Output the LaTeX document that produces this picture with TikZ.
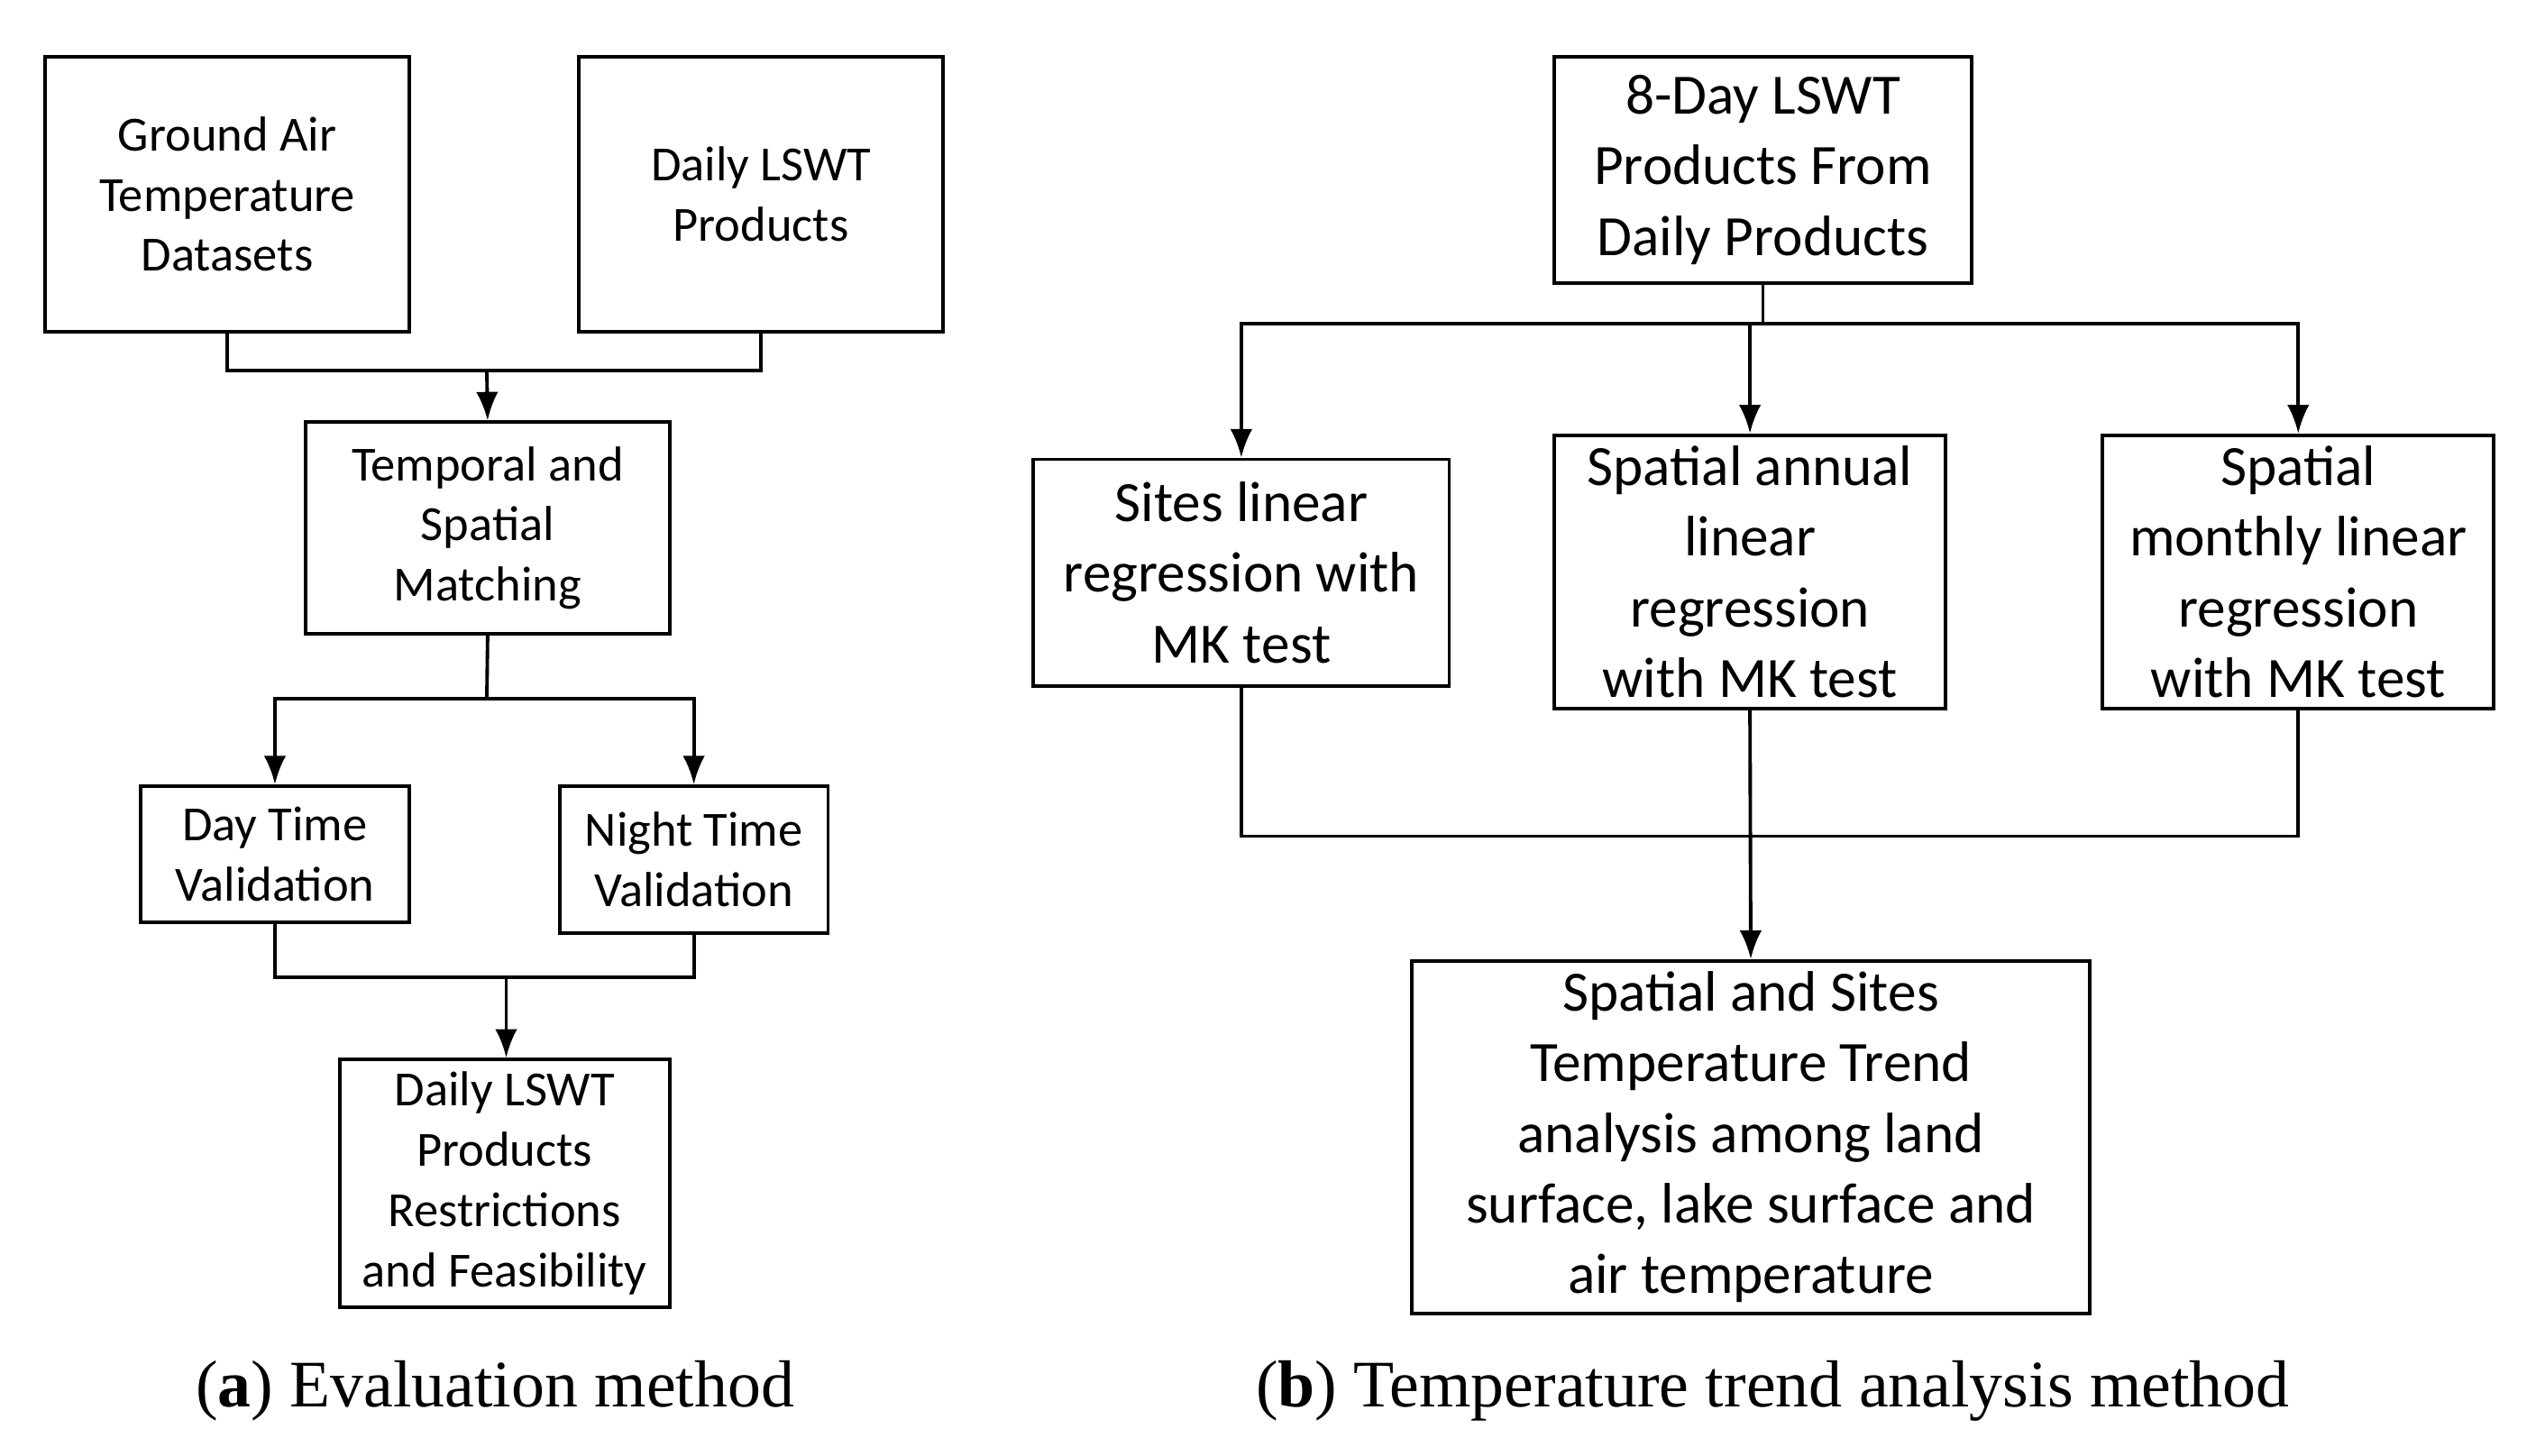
\documentclass[tikz,border=0pt]{standalone}
\usepackage{fontspec}
\setmainfont{Liberation Serif}
\newfontfamily\boxfont{Carlito}
\usetikzlibrary{arrows.meta}
\newcommand{\bx}[6]{\node[box,#6,minimum width={(#4-#2)*0.01794cm},minimum height={(#5-#3)*0.01794cm}] (#1) at ({(#2+#4)/2},{(#3+#5)/2})}
\begin{document}
\begin{tikzpicture}[x=0.01794cm,y=-0.01794cm,line width=1.1pt,
  box/.style={draw,align=center,inner sep=0pt},
  sm/.style={font=\boxfont\fontsize{15.5}{19}\selectfont},
  lg/.style={font=\boxfont\fontsize{18}{22.3}\selectfont},
  arr/.style={-{Latex[length=9pt,width=7pt]}}]
\useasboundingbox (0,0) rectangle (1568,900);
% left
\bx{A}{28}{35}{253}{205}{sm} {Ground Air\\Temperature\\Datasets};
\bx{B}{358}{35}{583}{205}{sm} {Daily LSWT\\Products};
\bx{C}{189}{261}{414}{392}{sm} {Temporal and\\Spatial\\Matching};
\bx{D}{87}{486}{253}{570}{sm} {Day Time\\Validation};
\bx{E}{346}{486}{512}{577}{sm} {Night Time\\Validation};
\bx{F}{210}{655}{414}{808}{sm} {Daily LSWT\\Products\\Restrictions\\and Feasibility};
\coordinate (j1) at (301,229);
\coordinate (j2) at (301,432);
\coordinate (j3) at (313,604);
\draw (A.south) |- (j1) -| (B.south);
\draw[arr] (j1) -- (C.north);
\draw (C.south) -- (j2);
\draw[arr] (j2) -| (D.north);
\draw[arr] (j2) -| (E.north);
\draw (D.south) |- (j3) -| (E.south);
\draw[arr] (j3) -- (j3 |- F.north);
% right
\bx{G}{961}{35}{1219}{175}{lg} {8-Day LSWT\\Products From\\Daily Products};
\bx{H}{639}{284}{896}{424}{lg} {Sites linear\\regression with\\MK test};
\bx{I}{961}{269}{1203}{438}{lg} {Spatial annual\\linear\\regression\\with MK test};
\bx{J}{1300}{269}{1542}{438}{lg} {Spatial\\monthly linear\\regression\\with MK test};
\bx{K}{873}{594}{1292}{812}{lg} {Spatial and Sites\\Temperature Trend\\analysis among land\\surface, lake surface and\\air temperature};
\coordinate (k1) at (1090,200);
\coordinate (k2) at (1082,517);
\draw (G.south) -- (k1);
\draw[arr] (k1) -| (H.north);
\draw[arr] (k1) -| (J.north);
\draw[arr] (I.north |- k1) -- (I.north);
\draw (H.south) |- (k2) -| (J.south);
\draw[arr] (I.south) -- (K.north);
% captions
\node[font=\fontsize{21}{25}\selectfont] (ca) at (306,860) {(\textbf{a}) Evaluation method};
\node[font=\fontsize{21}{25}\selectfont] (cb) at (1096,860) {(\textbf{b}) Temperature trend analysis method};
\end{tikzpicture}
\end{document}
